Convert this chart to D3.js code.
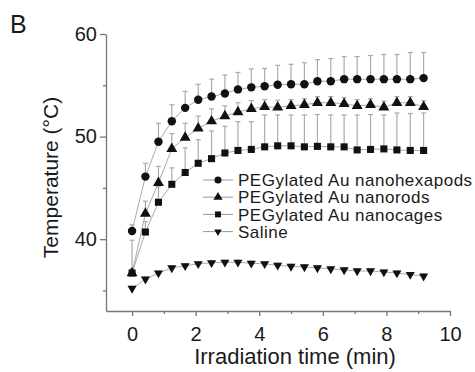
<!DOCTYPE html>
<html>
<head>
<meta charset="utf-8">
<script src="https://cdn.jsdelivr.net/npm/d3@7"></script>
<style>
  body { margin: 0; background: #fff; }
  svg { display: block; }
  text { font-family: "Liberation Sans", Arial, sans-serif; fill: #1a1a1a; }
</style>
</head>
<body>
<svg id="chart" width="475" height="372"></svg>
<script>
// time points (min), one every 25 s
const times = [0, 0.42, 0.83, 1.25, 1.67, 2.08, 2.5, 2.92, 3.33, 3.75, 4.17, 4.58,
  5, 5.42, 5.83, 6.25, 6.67, 7.08, 7.5, 7.92, 8.33, 8.75, 9.17];

const hexapods = [40.8, 46.1, 49.5, 51.5, 52.8, 53.6, 53.9, 54.2, 54.6, 54.8, 54.9, 55.05,
  55.1, 55.1, 55.4, 55.4, 55.6, 55.6, 55.6, 55.6, 55.6, 55.6, 55.7];
const hexapodsSd = [0.6, 1.3, 1.8, 1.6, 1.6, 1.5, 1.7, 1.8, 1.65, 1.8, 1.75, 1.9,
  1.95, 2.1, 2.1, 2.2, 2.2, 2.2, 2.3, 2.4, 2.4, 2.6, 2.5];

const nanorods = [36.7, 42.5, 45.5, 48.8, 49.9, 50.8, 51.5, 52.0, 52.4, 52.7, 52.9, 52.85,
  53.0, 53.1, 53.3, 53.3, 53.2, 53.0, 53.1, 52.85, 53.3, 53.3, 52.9];
const nanorodsSd = [0.4, 1.2, 1.6, 1.5, 1.4, 1.2, 1.2, 1.0, 0.9, 0.8, 0.7, 0.7,
  0.6, 0.6, 0.6, 0.6, 0.6, 0.6, 0.6, 0.6, 0.6, 0.6, 0.6];

const nanocages = [36.7, 40.7, 43.6, 45.35, 46.5, 47.4, 47.85, 48.4, 48.65, 48.75, 49.0, 49.1,
  49.1, 49.0, 49.05, 49.0, 49.0, 48.7, 48.75, 48.8, 48.7, 48.65, 48.65];
const nanocagesSd = [3.2, 1.0, 1.5, 1.6, 2.4, 2.3, 2.7, 2.6, 2.8, 2.7, 3.1, 3.0,
  3.0, 3.1, 3.1, 3.1, 3.1, 3.4, 3.4, 3.3, 3.6, 3.6, 3.65];

const saline = [35.2, 36.1, 36.7, 37.2, 37.4, 37.6, 37.7, 37.75, 37.75, 37.65, 37.6, 37.45,
  37.35, 37.3, 37.2, 37.1, 37.0, 36.9, 36.9, 36.8, 36.7, 36.55, 36.4];
const salineSd = [0.2, 0.2, 0.2, 0.2, 0.2, 0.2, 0.2, 0.2, 0.2, 0.2, 0.2, 0.2,
  0.2, 0.2, 0.2, 0.2, 0.2, 0.2, 0.2, 0.2, 0.2, 0.2, 0.2];

const seriesNames = ["PEGylated Au nanohexapods", "PEGylated Au nanorods",
  "PEGylated Au nanocages", "Saline"];

const xMajorTicks = [0, 2, 4, 6, 8, 10];
const xMinorTicks = [1, 3, 5, 7, 9];
const yMajorTicks = [40, 50, 60];
const yMinorTicks = [35, 45, 55];

const series = [
  { name: seriesNames[0], values: hexapods, sd: hexapodsSd, symbol: d3.symbolCircle, size: 56, rot: 0 },
  { name: seriesNames[1], values: nanorods, sd: nanorodsSd, symbol: d3.symbolTriangle, size: 52, rot: 0 },
  { name: seriesNames[2], values: nanocages, sd: nanocagesSd, symbol: d3.symbolSquare, size: 50, rot: 0 },
  { name: seriesNames[3], values: saline, sd: salineSd, symbol: d3.symbolTriangle, size: 36, rot: 180 }
];

const svg = d3.select("#chart");
const axisColor = "#777";

let x = d3.scaleLinear().domain([-0.82, 10]).range([106, 450]);
let y = d3.scaleLinear().domain([33, 60]).range([311, 34]);

// axes
function styleAxis(g) {
  g.selectAll("path, line").attr("stroke", axisColor).attr("stroke-width", 1.3);
  g.selectAll("text").attr("fill", "#1a1a1a").attr("font-family", "Liberation Sans, Arial, sans-serif");
}

svg.append("g")
  .attr("transform", "translate(0,311)")
  .call(d3.axisBottom(x).tickValues(xMajorTicks).tickSize(5).tickPadding(11).tickSizeOuter(0))
  .call(styleAxis)
  .call(g => g.selectAll("text").attr("font-size", 20));

svg.append("g")
  .attr("transform", "translate(0,311)")
  .call(d3.axisBottom(x).tickValues(xMinorTicks).tickSize(3).tickFormat("").tickSizeOuter(0))
  .call(styleAxis)
  .call(g => g.select(".domain").remove());

svg.append("g")
  .attr("transform", "translate(106,0)")
  .call(d3.axisLeft(y).tickValues(yMajorTicks).tickSize(6).tickPadding(3).tickSizeOuter(0))
  .call(styleAxis)
  .call(g => g.selectAll("text").attr("font-size", 20));

svg.append("g")
  .attr("transform", "translate(106,0)")
  .call(d3.axisLeft(y).tickValues(yMinorTicks).tickSize(3).tickFormat("").tickSizeOuter(0))
  .call(styleAxis)
  .call(g => g.select(".domain").remove());

// connecting lines
const line = d3.line()
  .x((d, i) => x(times[i]))
  .y(d => y(d));

series.forEach(s => {
  svg.append("path")
    .datum(s.values)
    .attr("fill", "none")
    .attr("stroke", "#aaa")
    .attr("stroke-width", 1)
    .attr("d", line);
});

// error bars (upper only)
series.forEach(s => {
  const eb = svg.append("g").attr("stroke", "#aaa").attr("stroke-width", 1.2);
  s.values.forEach((v, i) => {
    const cx = x(times[i]);
    eb.append("line")
      .attr("x1", cx).attr("x2", cx)
      .attr("y1", y(v)).attr("y2", y(v + s.sd[i]));
    eb.append("line")
      .attr("x1", cx - 2.5).attr("x2", cx + 2.5)
      .attr("y1", y(v + s.sd[i])).attr("y2", y(v + s.sd[i]));
  });
});

// markers
series.forEach(s => {
  svg.append("g")
    .selectAll("path")
    .data(s.values)
    .enter().append("path")
    .attr("d", d3.symbol().type(s.symbol).size(s.size))
    .attr("transform", (d, i) => "translate(" + x(times[i]) + "," + y(d) + ") rotate(" + s.rot + ")")
    .attr("fill", "#111");
});

// legend
const legend = svg.append("g")
  .selectAll("g")
  .data(series)
  .enter().append("g")
  .attr("transform", (d, i) => "translate(203," + (180 + i * 17.2) + ")");

legend.append("line")
  .attr("x1", 0).attr("x2", 30)
  .attr("stroke", "#999").attr("stroke-width", 1);

legend.append("path")
  .attr("d", d => d3.symbol().type(d.symbol).size(d.size * 0.7)())
  .attr("transform", d => "translate(15,0) rotate(" + d.rot + ")")
  .attr("fill", "#111");

legend.append("text")
  .attr("x", 35)
  .attr("dy", "0.36em")
  .attr("font-size", 17)
  .attr("letter-spacing", 0.5)
  .text(d => d.name);

// titles
svg.append("text")
  .attr("x", 295).attr("y", 364)
  .attr("text-anchor", "middle")
  .attr("font-size", 22)
  .text("Irradiation time (min)");

svg.append("text")
  .attr("transform", "translate(58,177.5) rotate(-90)")
  .attr("text-anchor", "middle")
  .attr("font-size", 21)
  .text("Temperature (\u00B0C)");

svg.append("text")
  .attr("x", 10).attr("y", 33)
  .attr("font-size", 25)
  .text("B");
</script>
</body>
</html>
